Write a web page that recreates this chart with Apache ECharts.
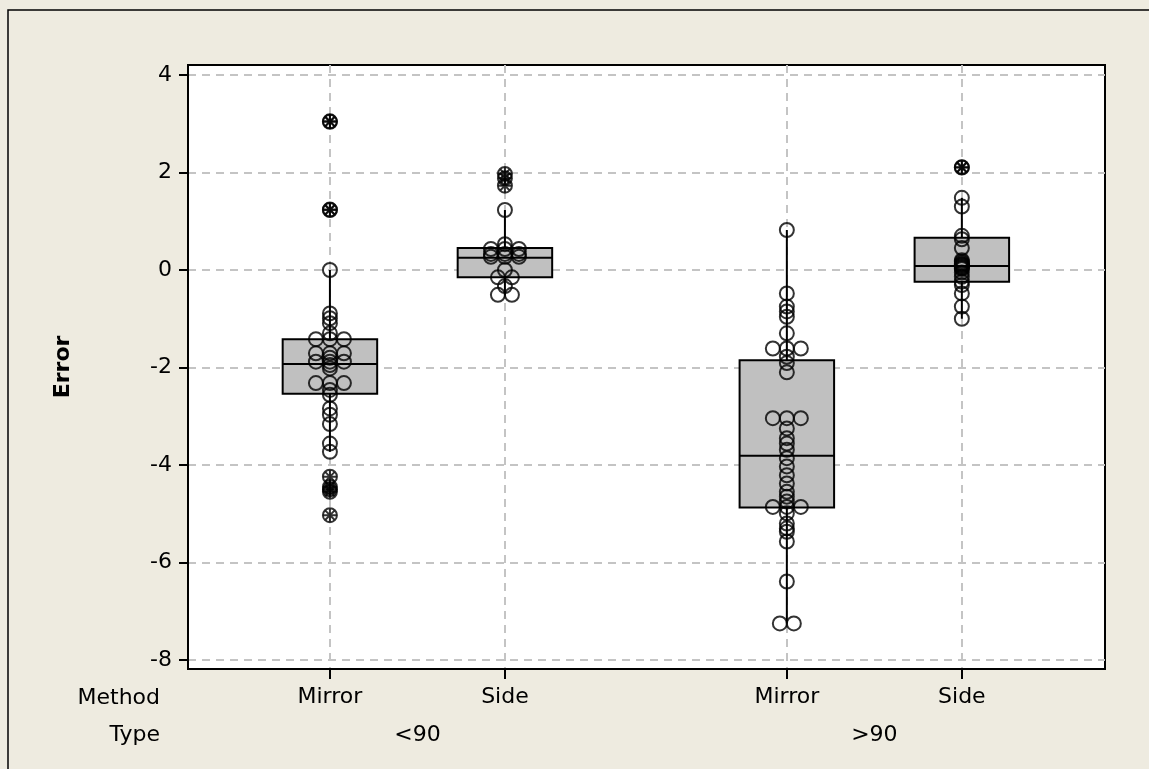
<!DOCTYPE html>
<html>
<head>
<meta charset="utf-8">
<script src="https://cdn.jsdelivr.net/npm/echarts@6/dist/echarts.min.js"></script>
<style>
  html, body { margin: 0; padding: 0; background: #eeebe0; }
  #main { width: 1149px; height: 769px; }
</style>
</head>
<body>
<div id="main"></div>
<script>
// 分类
var methods = ['Mirror', 'Side', 'Mirror', 'Side'];
var types = ['<90', '>90'];
var positions = [1, 2, 3.611, 4.611];
var typeCenters = [1.5, 4.111];
var yTicks = [-8, -6, -4, -2, 0, 2, 4];

// 箱线图统计量
var whiskerLow = [-3.73, -0.51, -7.25, -1.0];
var q1 = [-2.54, -0.15, -4.87, -0.24];
var median = [-1.93, 0.25, -3.81, 0.08];
var q3 = [-1.42, 0.45, -1.85, 0.66];
var whiskerHigh = [0.0, 1.23, 0.82, 1.48];

// 各组单个数据点
var mirrorLow = [3.05, 3.04, 1.24, 1.23, 0.0, -0.89, -0.99, -1.09, -1.30, -1.42, -1.42, -1.42,
  -1.71, -1.71, -1.71, -1.80, -1.88, -1.88, -1.88, -1.95, -2.02, -2.32, -2.32, -2.32, -2.46,
  -2.56, -2.84, -2.97, -3.16, -3.56, -3.73, -4.24, -4.45, -4.50, -4.55, -5.03];
var sideLow = [1.97, 1.88, 1.73, 1.23, 0.53, 0.43, 0.43, 0.43, 0.33, 0.33, 0.33, 0.27, 0.27,
  0.27, 0.0, -0.15, -0.15, -0.33, -0.51, -0.51];
var mirrorHigh = [0.82, -0.48, -0.75, -0.85, -0.96, -1.30, -1.61, -1.61, -1.61, -1.78, -1.91,
  -2.10, -3.04, -3.04, -3.04, -3.25, -3.45, -3.56, -3.69, -3.86, -4.03, -4.21, -4.38, -4.55,
  -4.65, -4.75, -4.86, -4.86, -4.86, -4.99, -5.20, -5.30, -5.37, -5.57, -6.39, -7.25, -7.25];
var sideHigh = [2.11, 2.10, 1.48, 1.30, 0.70, 0.63, 0.45, 0.20, 0.17, 0.14, 0.12, 0.10, 0.08,
  0.06, 0.04, 0.02, -0.05, -0.14, -0.24, -0.31, -0.48, -0.75, -1.0];

var groups = [mirrorLow, sideLow, mirrorHigh, sideHigh];
var dx = 0.08; // 同值点横向错开

var boxData = [], circleData = [], starData = [];
for (var i = 0; i < groups.length; i++) {
  boxData.push([positions[i], whiskerLow[i], q1[i], median[i], q3[i], whiskerHigh[i]]);
  var counts = {};
  groups[i].forEach(function (v) { counts[v] = (counts[v] || 0) + 1; });
  var seen = {};
  groups[i].forEach(function (v) {
    var k = seen[v] || 0;
    seen[v] = k + 1;
    var x = positions[i] + (k - (counts[v] - 1) / 2) * dx;
    circleData.push([x, v]);
    if (v > whiskerHigh[i] || v < whiskerLow[i]) starData.push([x, v]);
  });
}

var font = 'DejaVu Sans';
var gridLine = { color: '#c4c4c4', width: 2, type: [8, 6] };

var chart = echarts.init(document.getElementById('main'));
chart.setOption({
  animation: false,
  backgroundColor: '#eeebe0',
  textStyle: { fontFamily: font },
  graphic: [
    { type: 'rect', shape: { x: 8, y: 10, width: 1300, height: 900 },
      style: { fill: 'none', stroke: '#000', lineWidth: 1.5 }, silent: true },
    { type: 'text', right: 1149 - 160, top: 687,
      style: { text: 'Method', font: '22px "DejaVu Sans"', fill: '#000', textAlign: 'right' } },
    { type: 'text', right: 1149 - 160, top: 724,
      style: { text: 'Type', font: '22px "DejaVu Sans"', fill: '#000', textAlign: 'right' } }
  ],
  grid: {
    left: 188, top: 65, right: 44, bottom: 100,
    show: true, backgroundColor: '#fff', borderColor: '#000', borderWidth: 2
  },
  xAxis: [{
    type: 'value', min: 0.189, max: 5.429,
    axisLine: { onZero: false, lineStyle: { color: '#000', width: 2 } },
    axisTick: { customValues: positions, length: 10, lineStyle: { color: '#000', width: 2 } },
    axisLabel: {
      customValues: positions, color: '#000', fontSize: 22, margin: 17,
      formatter: function (v) {
        var idx = 0;
        for (var j = 0; j < positions.length; j++) {
          if (Math.abs(positions[j] - v) < Math.abs(positions[idx] - v)) idx = j;
        }
        return methods[idx];
      }
    },
    splitLine: { show: true, lineStyle: gridLine }
  }, {
    type: 'value', min: 0.189, max: 5.429, position: 'bottom', offset: 38,
    axisLine: { show: false, onZero: false }, axisTick: { show: false }, splitLine: { show: false },
    axisLabel: {
      customValues: typeCenters, color: '#000', fontSize: 22, margin: 17,
      formatter: function (v) { return v < 3 ? types[0] : types[1]; }
    }
  }],
  yAxis: {
    type: 'value', min: -8.185, max: 4.205,
    name: 'Error', nameLocation: 'middle', nameGap: 114, nameRotate: 90,
    nameTextStyle: { fontSize: 22, fontWeight: 'bold', color: '#000' },
    axisLine: { show: true, lineStyle: { color: '#000', width: 2 } },
    axisTick: { show: true, customValues: yTicks, length: 9, lineStyle: { color: '#000', width: 2 } },
    axisLabel: { customValues: yTicks, color: '#000', fontSize: 22, margin: 16 },
    splitLine: { show: true, lineStyle: gridLine }
  },
  series: [{
    type: 'custom',
    data: boxData,
    encode: { x: 0, y: [1, 2, 3, 4, 5] },
    silent: true,
    renderItem: function (params, api) {
      var x = api.value(0);
      var lo = api.coord([x, api.value(1)]);
      var b1 = api.coord([x, api.value(2)]);
      var md = api.coord([x, api.value(3)]);
      var b3 = api.coord([x, api.value(4)]);
      var hi = api.coord([x, api.value(5)]);
      var half = api.size([0.54, 0])[0] / 2;
      var st = { stroke: '#000', lineWidth: 2 };
      return {
        type: 'group',
        children: [
          { type: 'line', shape: { x1: lo[0], y1: lo[1], x2: b1[0], y2: b1[1] }, style: st },
          { type: 'line', shape: { x1: hi[0], y1: hi[1], x2: b3[0], y2: b3[1] }, style: st },
          { type: 'rect', shape: { x: md[0] - half, y: b3[1], width: half * 2, height: b1[1] - b3[1] },
            style: { fill: '#c0c0c0', stroke: '#000', lineWidth: 2 } },
          { type: 'line', shape: { x1: md[0] - half, y1: md[1], x2: md[0] + half, y2: md[1] }, style: st }
        ]
      };
    },
    z: 2
  }, {
    type: 'scatter',
    data: circleData,
    symbol: 'circle',
    symbolSize: 14,
    itemStyle: { color: 'rgba(0,0,0,0)', borderColor: '#000', borderWidth: 2 },
    emphasis: { disabled: true },
    z: 3
  }, {
    type: 'scatter',
    data: starData,
    symbol: 'path://M0,-10L0,10M-10,0L10,0M-7,-7L7,7M-7,7L7,-7',
    symbolSize: 13,
    itemStyle: { color: 'none', borderColor: '#000', borderWidth: 2 },
    emphasis: { disabled: true },
    z: 4
  }]
});
</script>
</body>
</html>
